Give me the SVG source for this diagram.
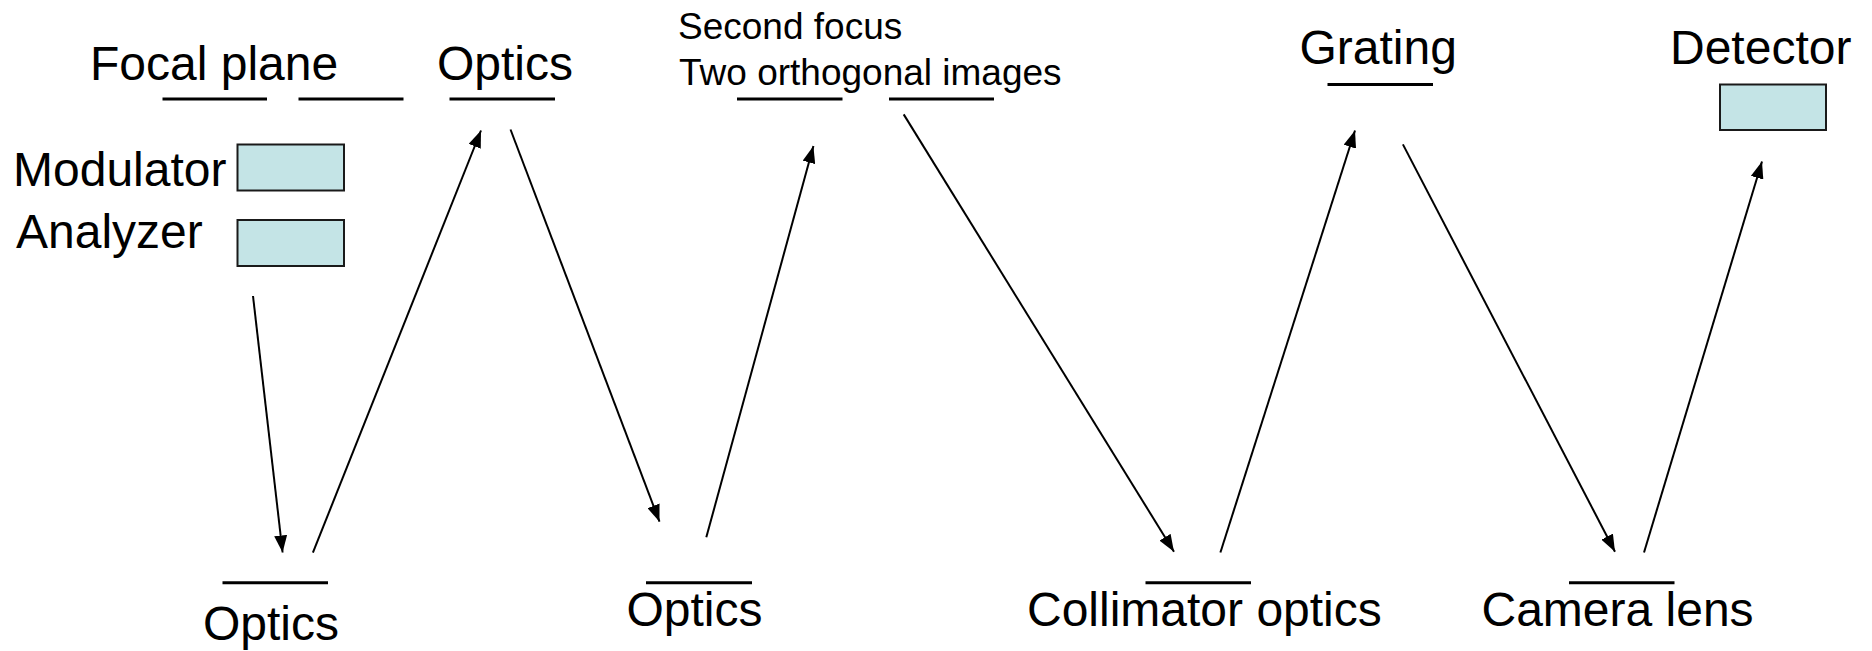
<svg xmlns="http://www.w3.org/2000/svg" width="1872" height="651" viewBox="0 0 1872 651">
  <style>
    text { font-family: "Liberation Sans", Arial, sans-serif; fill: #000; }
    .big { font-size: 48px; }
    .small { font-size: 37px; }
    .bar { stroke: #000; stroke-width: 3; fill: none; }
    .box { fill: #c4e4e6; stroke: #1a1a1a; stroke-width: 2; }
    .ray { stroke: #000; stroke-width: 2; fill: none; marker-end: url(#arrow); }
  </style>
  <defs>
    <marker id="arrow" markerUnits="userSpaceOnUse" markerWidth="17" markerHeight="13" refX="17" refY="6.5" orient="auto">
      <path d="M0,0 L17,6.5 L0,13 Z" fill="#000"/>
    </marker>
  </defs>
  <rect width="1872" height="651" fill="#fff"/>

  <!-- focal plane with modulator and analyzer -->
  <g id="focal-plane">
    <text class="big" x="90" y="80">Focal plane</text>
    <line class="bar" x1="162.5" y1="99" x2="267" y2="99"/>
    <line class="bar" x1="298.5" y1="99" x2="403.5" y2="99"/>
  </g>
  <g id="modulator">
    <text class="big" x="13" y="186">Modulator</text>
    <rect class="box" x="237.5" y="144.5" width="106.5" height="46"/>
  </g>
  <g id="analyzer">
    <text class="big" x="16" y="248">Analyzer</text>
    <rect class="box" x="237.5" y="220" width="106.5" height="46"/>
  </g>

  <!-- upper optics -->
  <g id="optics-top">
    <text class="big" x="437" y="80">Optics</text>
    <line class="bar" x1="449.5" y1="99" x2="555" y2="99"/>
  </g>

  <!-- second focus -->
  <g id="second-focus">
    <text class="small" x="678" y="38.5">Second focus</text>
    <text class="small" x="679" y="85">Two orthogonal images</text>
    <line class="bar" x1="737" y1="99" x2="842.5" y2="99"/>
    <line class="bar" x1="889" y1="99" x2="994" y2="99"/>
  </g>

  <!-- spectrograph -->
  <g id="grating">
    <text class="big" x="1299.5" y="64">Grating</text>
    <line class="bar" x1="1327.5" y1="84.5" x2="1433" y2="84.5"/>
  </g>
  <g id="detector">
    <text class="big" x="1670" y="64">Detector</text>
    <rect class="box" x="1720" y="84.5" width="106" height="45.5"/>
  </g>

  <!-- lower row -->
  <g id="optics-bottom-left">
    <line class="bar" x1="222.5" y1="582.7" x2="328" y2="582.7"/>
    <text class="big" x="203" y="640">Optics</text>
  </g>
  <g id="optics-bottom-mid">
    <line class="bar" x1="646" y1="582.7" x2="752" y2="582.7"/>
    <text class="big" x="626.5" y="626">Optics</text>
  </g>
  <g id="collimator">
    <line class="bar" x1="1145.5" y1="582.7" x2="1251" y2="582.7"/>
    <text class="big" x="1027" y="626">Collimator optics</text>
  </g>
  <g id="camera">
    <line class="bar" x1="1569" y1="582.7" x2="1674.5" y2="582.7"/>
    <text class="big" x="1481.5" y="626">Camera lens</text>
  </g>

  <!-- light path -->
  <g id="connectors">
    <line class="ray" x1="253" y1="296" x2="282.6" y2="552.5"/>
    <line class="ray" x1="312.9" y1="552.7" x2="481" y2="130.5"/>
    <line class="ray" x1="510.5" y1="129.5" x2="659.5" y2="521.7"/>
    <line class="ray" x1="706.3" y1="537.3" x2="813.4" y2="146"/>
    <line class="ray" x1="903.7" y1="114.4" x2="1174" y2="551.7"/>
    <line class="ray" x1="1220.4" y1="552.5" x2="1355" y2="130.5"/>
    <line class="ray" x1="1402.9" y1="144.4" x2="1615" y2="551.7"/>
    <line class="ray" x1="1644" y1="552.5" x2="1762" y2="161.5"/>
  </g>
</svg>
